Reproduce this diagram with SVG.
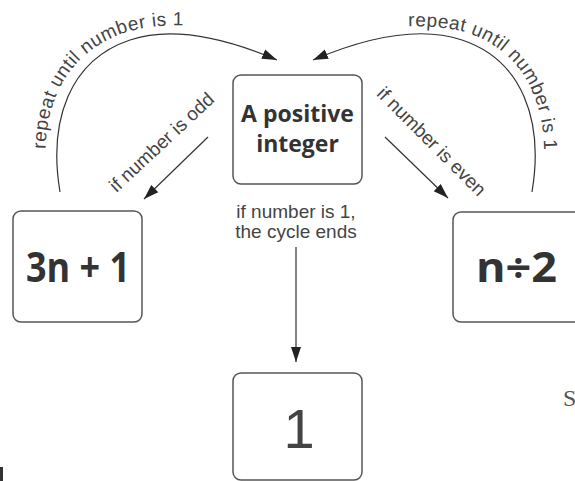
<svg xmlns="http://www.w3.org/2000/svg" width="575" height="481" viewBox="0 0 575 481">
<defs>
<marker id="ah" markerUnits="userSpaceOnUse" markerWidth="16" markerHeight="12" refX="15" refY="5" orient="auto" viewBox="0 0 16 10">
<path d="M0,0 L15,5 L0,10 z" fill="#222"/>
</marker>
<path id="tpL" d="M47,175 C39,110 64,52 127,32 C162,22 200,24 245,34"/>
<path id="tpR" d="M345,35 C390,25 430,23 465,32 C527,51 550,110 543,175"/>
</defs>
<style>
.box{fill:#fff;stroke:#555;stroke-width:1.5}
.bold{font-family:"Open Sans","Liberation Sans",sans-serif;font-weight:700;fill:#333}
.lbl{font-family:"Liberation Sans",Arial,sans-serif;fill:#444}
.arc{letter-spacing:0.5px}
.conn{fill:none;stroke:#333;stroke-width:1.2;marker-end:url(#ah)}
</style>
<rect width="575" height="481" fill="#fff"/>
<g id="connectors">
<path class="conn" d="M60,192 C48,120 70,60 130,40 C175,25 230,40 277,60"/>
<path class="conn" d="M532,192 C544,120 522,60 462,40 C417,25 360,40 313,60"/>
<path class="conn" d="M208,137 L144,199"/>
<path class="conn" d="M385,137 L448,198"/>
<path class="conn" d="M296,247 L296,362"/>
</g>
<g id="labels">
<text class="lbl arc" font-size="19"><textPath href="#tpL" startOffset="26">repeat until number is 1</textPath></text>
<text class="lbl arc" font-size="19"><textPath href="#tpR" startOffset="64">repeat until number is 1</textPath></text>
<text class="lbl" font-size="19" text-anchor="middle" transform="translate(166,147) rotate(-43)">if number is odd</text>
<text class="lbl" font-size="19" text-anchor="middle" transform="translate(427,146) rotate(45)">if number is even</text>
<text class="lbl" font-size="19" text-anchor="middle" x="296" y="218">if number is 1,</text>
<text class="lbl" font-size="19" text-anchor="middle" x="296" y="238">the cycle ends</text>
</g>
<g id="node-start">
<rect class="box" x="233" y="75" width="129" height="109" rx="8"/>
<text class="bold" font-size="23" text-anchor="middle" x="297.5" y="122">A positive</text>
<text class="bold" font-size="23" text-anchor="middle" x="297.5" y="152">integer</text>
</g>
<g id="node-odd">
<rect class="box" x="13" y="211" width="129" height="111" rx="8"/>
<text class="bold" font-size="42" x="26" y="282" textLength="104" lengthAdjust="spacingAndGlyphs">3n + 1</text>
</g>
<g id="node-even">
<rect class="box" x="453" y="212" width="140" height="110" rx="8"/>
<text class="bold" font-size="42" x="476" y="282" textLength="81" lengthAdjust="spacingAndGlyphs">n÷2</text>
</g>
<g id="node-end">
<rect class="box" x="233" y="373" width="129" height="107" rx="8"/>
<text class="lbl" font-size="56" text-anchor="middle" x="299" y="448" fill="#333">1</text>
</g>
<text font-family="Liberation Serif,serif" font-size="24" fill="#555" x="563" y="406">S</text>
<rect x="0" y="467" width="3" height="14" fill="#333"/>
</svg>
